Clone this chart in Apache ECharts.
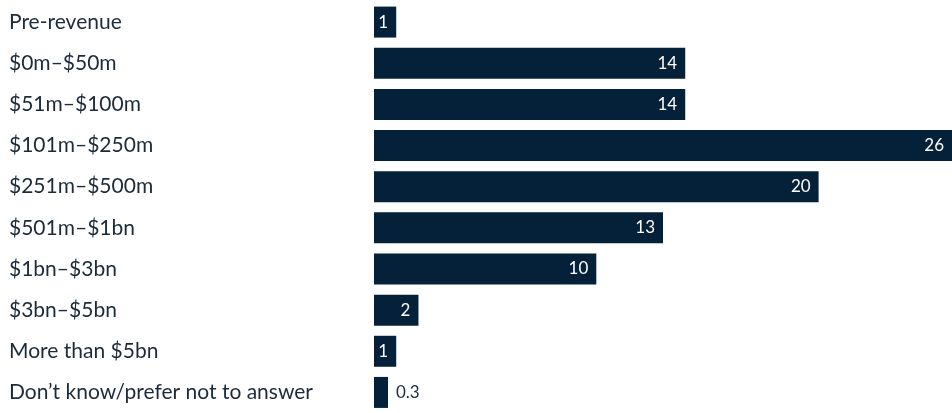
<!DOCTYPE html>
<html>
<head>
<meta charset="utf-8">
<script src="https://cdn.jsdelivr.net/npm/echarts@6/dist/echarts.min.js"></script>
<style>
  html, body { margin: 0; padding: 0; background: #fff; }
  #chart { width: 952px; height: 413px; }
</style>
</head>
<body>
<div id="chart"></div>
<script>
const categories = [
  'Pre-revenue',
  '$0m–$50m',
  '$51m–$100m',
  '$101m–$250m',
  '$251m–$500m',
  '$501m–$1bn',
  '$1bn–$3bn',
  '$3bn–$5bn',
  'More than $5bn',
  'Don’t know/prefer not to answer'
];
const values = [1, 14, 14, 26, 20, 13, 10, 2, 1, 0.3];

const barColor = '#05213a';
const textColor = '#1c2b3a';
const fontFamily = 'Lato, sans-serif';

const chart = echarts.init(document.getElementById('chart'));

// tiny values get their label outside the bar
const seriesData = values.map((v) => {
  const outside = v < 0.5;
  return {
    value: v,
    label: outside
      ? { position: 'right', color: textColor, distance: 8 }
      : { position: 'insideRight', color: '#fff', distance: 8 }
  };
});

chart.setOption({
  animation: false,
  grid: { left: 374, right: 0, top: 1.5, height: 420 },
  xAxis: {
    type: 'value',
    min: 0,
    max: 26,
    show: false
  },
  yAxis: {
    type: 'category',
    inverse: true,
    data: categories,
    axisLine: { show: false },
    axisTick: { show: false },
    axisLabel: {
      align: 'left',
      margin: 365,
      padding: [6, 0, 0, 0],
      color: textColor,
      fontSize: 21,
      fontFamily
    }
  },
  series: [
    {
      type: 'bar',
      data: seriesData,
      barWidth: 31,
      barMinHeight: 14,
      itemStyle: { color: barColor },
      label: {
        show: true,
        fontSize: 17,
        fontFamily
      }
    }
  ]
});
</script>
</body>
</html>
